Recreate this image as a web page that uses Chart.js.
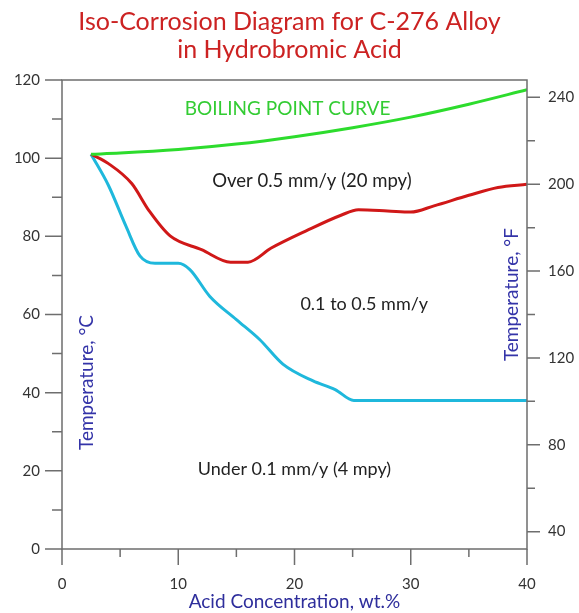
<!DOCTYPE html>
<html>
<head>
<meta charset="utf-8">
<script src="https://cdn.jsdelivr.net/npm/chart.js@4"></script>
<style>
  html, body { margin: 0; padding: 0; background: #fff; }
  #wrap { width: 579px; height: 613px; }
</style>
</head>
<body>
<div id="wrap"><canvas id="grafico"></canvas></div>
<script>
const xEbulicao = [2.5, 5, 10, 15, 20, 25, 30, 35, 40]
const yEbulicao = [101, 101.3, 102.2, 103.6, 105.5, 107.8, 110.5, 113.8, 117.5]

const xMeio = [2.5, 4, 6, 7.5, 9.3, 12, 14.5, 16, 18, 21, 24, 25.5, 28, 30, 32, 35, 37.5, 40]
const yMeio = [101, 98.6, 93.5, 86.5, 80.1, 76.6, 73.4, 73.4, 77, 81.4, 85.4, 86.8, 86.5, 86.2, 87.8, 90.5, 92.5, 93.3]

const xDecimo = [2.5, 4, 5.5, 6.7, 8, 10, 11, 12.7, 15, 17, 19, 21.6, 23.5, 25.1, 27, 30, 35, 40]
const yDecimo = [101, 93, 82.6, 75, 73.1, 73.1, 71.5, 64.7, 58.7, 53.6, 47.3, 43, 40.8, 38, 38, 38, 38, 38]

// marcas dos eixos
const ticksX = [0, 5, 10, 15, 20, 25, 30, 35, 40]
const ticksC = [0, 10, 20, 30, 40, 50, 60, 70, 80, 90, 100, 110, 120]
const ticksF = [40, 60, 80, 100, 120, 140, 160, 180, 200, 220, 240]

// textos dentro do grafico
const textos = [
  { t: 'BOILING POINT CURVE', x: 19.4, y: 112.6, cor: '#33cc33', tam: 19, rot: 0 },
  { t: 'Over 0.5 mm/y (20 mpy)', x: 21.5, y: 94.1, cor: '#222', tam: 18.5, rot: 0 },
  { t: '0.1 to 0.5 mm/y', x: 26.0, y: 62.6, cor: '#222', tam: 18, rot: 0 },
  { t: 'Under 0.1 mm/y (4 mpy)', x: 20.0, y: 20.5, cor: '#222', tam: 18, rot: 0 },
  { t: 'Temperature, °C', x: 2.1, y: 42.6, cor: '#3434a8', tam: 19, rot: -Math.PI / 2 },
  { t: 'Temperature, °F', x: 38.7, y: 65.1, cor: '#3434a8', tam: 19, rot: -Math.PI / 2 }
]

const fonte = 'Lato, "Open Sans", sans-serif'

function pontos(xs, ys) {
  return xs.map((x, i) => ({ x: x, y: ys[i] }))
}

function serie(xs, ys, cor) {
  return {
    data: pontos(xs, ys),
    showLine: true,
    borderColor: cor,
    borderWidth: 3,
    pointRadius: 0,
    cubicInterpolationMode: 'monotone',
    fill: false
  }
}

// desenha os tracinhos (maiores e menores), a moldura e os textos
const marcas = {
  id: 'marcas',
  afterDraw(chart) {
    const ctx = chart.ctx
    const a = chart.chartArea
    const sx = chart.scales.x, sy = chart.scales.y, sf = chart.scales.f
    ctx.save()
    ctx.strokeStyle = '#6e6e6e'
    ctx.lineWidth = 1.5
    ctx.beginPath()
    ctx.rect(a.left, a.top, a.right - a.left, a.bottom - a.top)
    ctx.stroke()
    ctx.beginPath()
    ticksX.forEach(v => {
      const p = sx.getPixelForValue(v)
      const len = v % 10 === 0 ? 16 : 8
      ctx.moveTo(p, a.bottom)
      ctx.lineTo(p, a.bottom + len)
    })
    ticksC.forEach(v => {
      const p = sy.getPixelForValue(v)
      const len = v % 20 === 0 ? 17 : 10
      ctx.moveTo(a.left, p)
      ctx.lineTo(a.left - len, p)
    })
    ticksF.forEach(v => {
      const p = sf.getPixelForValue(v)
      const len = v % 40 === 0 ? 13 : 8
      ctx.moveTo(a.right, p)
      ctx.lineTo(a.right + len, p)
    })
    ctx.stroke()

    textos.forEach(o => {
      ctx.save()
      ctx.translate(sx.getPixelForValue(o.x), sy.getPixelForValue(o.y))
      ctx.rotate(o.rot)
      ctx.fillStyle = o.cor
      ctx.font = o.tam + 'px ' + fonte
      ctx.textAlign = 'center'
      ctx.textBaseline = 'middle'
      ctx.fillText(o.t, 0, 0)
      ctx.restore()
    })
    ctx.restore()
  }
}

function atualizaGrafico() {
  const ctx = document.getElementById('grafico')
  const dados = {
    datasets: [
      serie(xEbulicao, yEbulicao, '#2ddc2d'),
      serie(xMeio, yMeio, '#d01818'),
      serie(xDecimo, yDecimo, '#1fb8dc')
    ]
  }

  const corTick = '#333'
  const fonteTick = { family: fonte, size: 15 }

  const opcoes = {
    responsive: true,
    maintainAspectRatio: false,
    animation: false,
    layout: { padding: 0 },
    plugins: {
      legend: { display: false },
      tooltip: { enabled: false },
      title: {
        display: true,
        text: ['Iso-Corrosion Diagram for C-276 Alloy', 'in Hydrobromic Acid'],
        color: '#cc2222',
        font: { family: fonte, size: 25, weight: 'normal', lineHeight: 1.12 },
        padding: { top: 8, bottom: 16 }
      }
    },
    scales: {
      x: {
        type: 'linear',
        min: 0,
        max: 40,
        afterBuildTicks: ax => { ax.ticks = ticksX.map(v => ({ value: v })) },
        afterFit: ax => { ax.height = 64 },
        ticks: {
          color: corTick,
          font: fonteTick,
          padding: 26,
          maxRotation: 0,
          callback: v => (v % 10 === 0 ? v : '')
        },
        grid: { display: false, drawTicks: false },
        border: { display: false },
        title: {
          display: true,
          text: 'Acid Concentration, wt.%',
          color: '#2e2e9c',
          font: { family: fonte, size: 19 },
          padding: { top: 0, bottom: 0 }
        }
      },
      y: {
        type: 'linear',
        position: 'left',
        min: 0,
        max: 120,
        afterBuildTicks: ax => { ax.ticks = ticksC.map(v => ({ value: v })) },
        afterFit: ax => { ax.width = 62 },
        ticks: {
          color: corTick,
          font: fonteTick,
          padding: 22,
          callback: v => (v % 20 === 0 ? v : '')
        },
        grid: { display: false, drawTicks: false },
        border: { display: false }
      },
      f: {
        type: 'linear',
        position: 'right',
        min: 32,
        max: 248,
        afterBuildTicks: ax => { ax.ticks = ticksF.map(v => ({ value: v })) },
        afterFit: ax => { ax.width = 52 },
        ticks: {
          color: corTick,
          font: fonteTick,
          padding: 21,
          callback: v => (v % 40 === 0 ? v : '')
        },
        grid: { display: false, drawTicks: false },
        border: { display: false }
      }
    }
  }

  new Chart(ctx, {
    type: 'scatter',
    data: dados,
    options: opcoes,
    plugins: [marcas]
  })
}
atualizaGrafico()
</script>
</body>
</html>
